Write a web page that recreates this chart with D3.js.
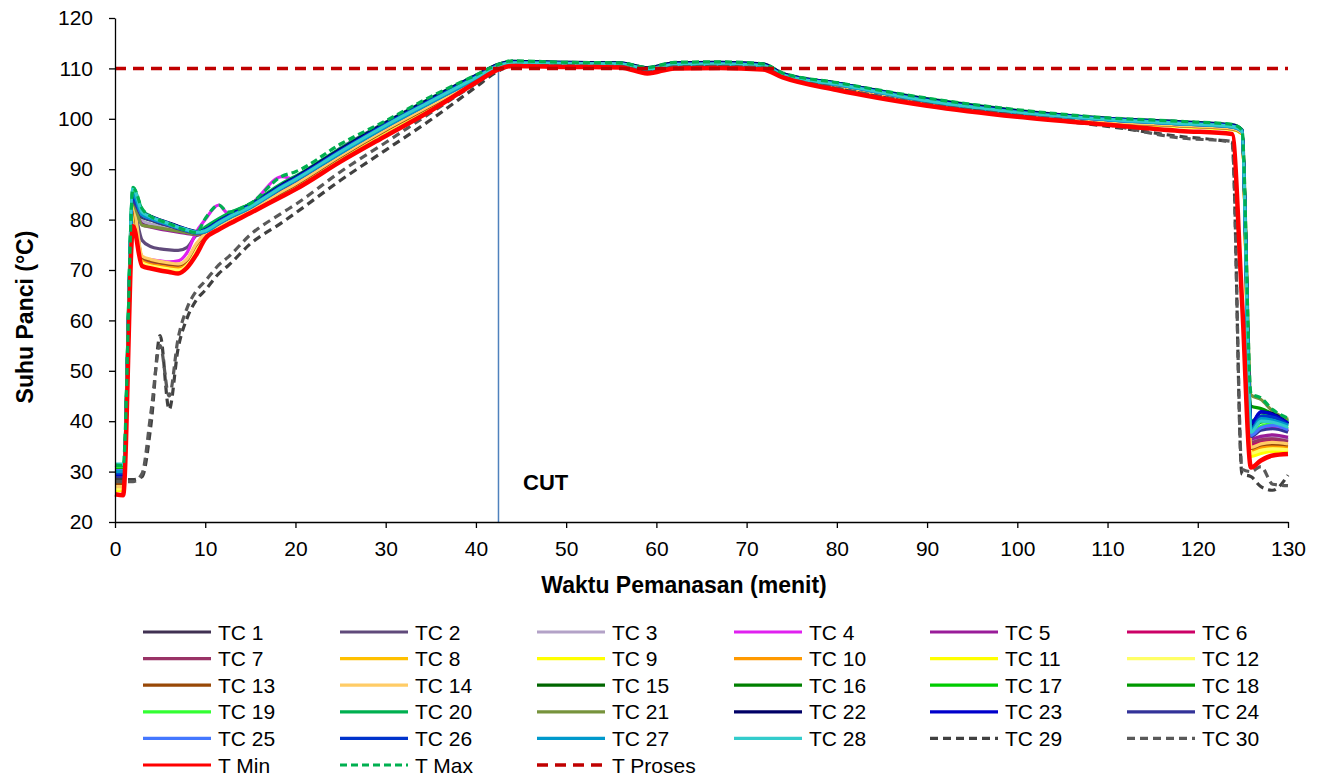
<!DOCTYPE html>
<html><head><meta charset="utf-8">
<script src="https://cdn.jsdelivr.net/npm/d3@7"></script>
<style>body{margin:0;background:#fff} text{font-family:"Liberation Sans",Arial,sans-serif;fill:#000}</style>
</head><body><svg id="c" width="1325" height="778"></svg>
<script>
// ---------- DATA ----------
const time = [0, 0.9, 2, 3, 4, 5, 6, 7, 8, 9, 10, 11.5, 12.5, 15, 18.5, 20, 25, 30, 35, 40, 42.5, 44, 50, 56, 59, 62, 67, 71.8, 74, 80, 90, 100, 110, 118, 123.8, 124.9, 125.9, 127, 128.3, 130];
const xTicks = [0,10,20,30,40,50,60,70,80,90,100,110,120,130];
const yTicks = [20,30,40,50,60,70,80,90,100,110,120];
const cutTime = 42.5;
const prosesTime = [0, 130];
const prosesValues = [110, 110];

const tc1  = [28,28,83,79.5,79,78.6,78.2,77.8,77.4,77.1,77.3,78.8,79.8,82,85.8,87.3,92.8,98,102.8,107.8,110.3,110.9,110.8,110.7,109.7,110.6,110.7,110.4,108.5,106.6,103.4,101.1,99.6,98.8,98.2,97.3,37,38.5,39.5,38];
const tc2  = [28.5,28.5,82,75.9,74.6,74.2,74,73.9,74.5,76.8,77.3,78.7,79.6,81.8,85.6,87,92.6,97.8,102.6,107.6,110.2,110.8,110.7,110.6,109.6,110.5,110.6,110.3,108.4,106.5,103.3,101,99.5,98.7,98.1,97.2,35,36.5,36.8,36.3];
const tc3  = [29,29,83.5,79.8,79.1,78.7,78.3,77.9,77.5,77.2,77.4,79,80,82.2,86,87.5,93,98.2,103,107.9,110.4,110.9,110.8,110.7,109.7,110.6,110.7,110.4,108.5,106.7,103.4,101.1,99.7,98.9,98.3,97.4,36,36.6,37,36.5];
const tc4  = [27,27,81,72.5,72,71.8,71.6,71.8,73.5,77.5,80,82.9,81.3,83,88.5,88,94.2,99.3,104,108.4,110.6,111.2,111,110.9,109.9,111,111.1,110.7,108.8,107,103.8,101.5,100,99.2,98.6,97.6,37,38.5,38.8,38];
const tc5  = [28,28,83,79,78.5,78.1,77.8,77.5,77.2,77,77.5,79.2,80.2,82.4,86.2,87.7,93.3,98.5,103.3,108,110.5,111,110.9,110.8,109.8,110.7,110.8,110.5,108.6,106.8,103.5,101.2,99.8,99,98.4,97.5,36.5,37,37.3,36.8];
const tc6  = [27,27,80.5,72,71.4,71,70.8,70.7,71.5,74.5,77,78.6,79.6,81.8,85.4,86.9,92.5,97.7,102.5,107.5,110.1,110.7,110.6,110.5,109.5,110.4,110.5,110.2,108.4,106.4,103.2,100.9,99.4,98.6,98,97.1,35.5,36,36.2,35.8];
const tc7  = [27.2,27.2,80,72.3,71.6,71.2,71,70.9,71.8,75,77.1,78.7,79.7,81.9,85.5,87,92.6,97.8,102.6,107.6,110.2,110.8,110.7,110.6,109.6,110.5,110.6,110.3,108.4,106.5,103.3,101,99.5,98.7,98.1,97.2,35.8,36.3,36.5,36];
const tc8  = [26.5,26.5,82,71.5,70.9,70.6,70.4,70.2,71.2,74.5,76.8,78.5,79.5,81.7,85.3,86.8,92.4,97.6,102.4,107.4,110,110.7,110.6,110.5,109.5,110.4,110.5,110.2,108.3,106.4,103.2,100.9,99.4,98.6,98,97.1,34,34.8,35,34.8];
const tc9  = [26.2,26.2,80.5,71,70.6,70.3,70,69.8,70.8,74,76.6,78.3,79.3,81.6,85.2,86.7,92.3,97.5,102.3,107.3,110,110.6,110.5,110.4,109.4,110.3,110.4,110.1,108.3,106.3,103.1,100.8,99.3,98.5,97.9,97,33,33.6,34,33.8];
const tc10 = [26.8,26.8,81.5,71.8,71.1,70.8,70.5,70.4,71.3,74.6,76.9,78.6,79.6,81.8,85.4,86.9,92.5,97.7,102.5,107.5,110.1,110.7,110.6,110.5,109.5,110.4,110.5,110.2,108.4,106.4,103.2,100.9,99.4,98.6,98,97.1,34.3,34.9,35.2,35];
const tc11 = [26.4,26.4,80.8,71.2,70.7,70.4,70.1,69.9,70.9,74.2,76.7,78.4,79.4,81.6,85.2,86.7,92.3,97.5,102.3,107.3,110,110.6,110.5,110.4,109.4,110.3,110.4,110.1,108.3,106.3,103.1,100.8,99.3,98.5,97.9,97,33.3,33.9,34.3,34];
const tc12 = [26.6,26.6,81,71.4,70.8,70.5,70.2,70,71,74.3,76.8,78.5,79.5,81.7,85.3,86.8,92.4,97.6,102.4,107.4,110,110.7,110.6,110.5,109.5,110.4,110.5,110.2,108.3,106.4,103.2,100.9,99.4,98.6,98,97.1,33.6,34.2,34.5,34.3];
const tc13 = [27.5,27.5,81.5,72.5,71.9,71.5,71.2,71,72,75,77,78.6,79.6,81.8,85.4,86.9,92.5,97.7,102.5,107.5,110.1,110.7,110.6,110.5,109.5,110.4,110.5,110.2,108.4,106.5,103.2,100.9,99.4,98.6,98,97.1,34.6,35.3,35.5,35.3];
const tc14 = [27,27,82.5,72.8,72.1,71.7,71.4,71.2,72.2,75.2,77.2,78.8,79.8,82,85.6,87.1,92.7,97.9,102.7,107.7,110.2,110.8,110.7,110.6,109.6,110.5,110.6,110.3,108.5,106.5,103.3,101,99.5,98.7,98.1,97.2,34.8,35.5,35.8,35.5];
const tc15 = [29.5,29.5,84,80.5,79.9,79.3,78.8,78.3,77.8,77.4,77.9,79.6,80.6,82.8,86.6,88.1,93.6,98.8,103.6,108.3,110.6,111.1,111,110.9,109.9,110.8,110.9,110.6,108.7,106.9,103.6,101.3,99.9,99.1,98.5,97.6,39,40.3,41,39.8];
const tc16 = [30,30,84.5,80.8,80.1,79.5,79,78.4,77.9,77.5,78.2,79.9,80.9,83,86.9,88.3,93.8,99,103.8,108.4,110.6,111.2,111,110.9,109.9,110.9,111,110.7,108.8,107,103.7,101.4,100,99.2,98.6,97.7,39.5,40.5,40.8,39.5];
const tc17 = [30.5,30.5,85,81,80.3,79.6,79.1,78.5,78,77.5,78,79.7,80.7,82.9,86.8,88.2,93.7,98.9,103.7,108.3,110.6,111.1,111,110.9,109.9,110.8,110.9,110.6,108.7,106.9,103.6,101.3,99.9,99.1,98.5,97.6,38.5,39.8,40,39];
const tc18 = [30.8,30.8,85.5,81.3,80.4,79.7,79.2,78.6,78,77.6,78.3,80,81,83.1,87,88.4,93.9,99.1,103.9,108.5,110.7,111.3,111.1,111,110,111,111.1,110.8,108.9,107.1,103.8,101.5,100.1,99.3,98.7,97.7,43,42.5,41.5,40.2];
const tc19 = [31,31,85.8,81.5,80.5,79.8,79.2,78.5,78,77.5,78,79.7,80.7,82.9,86.8,88.2,93.7,98.9,103.7,108.3,110.6,111.1,111,110.9,109.9,110.8,110.9,110.6,108.7,106.9,103.6,101.3,99.9,99.1,98.5,97.6,37.5,39,39.5,38.5];
const tc20 = [31.2,31.2,86.2,82,80.6,79.8,79.2,78.4,77.8,77.4,78.5,80.2,81.2,83.1,87.2,88.6,94.2,99.3,104.1,108.6,110.8,111.4,111.2,111.1,110.1,111.1,111.2,110.9,109,107.1,104,101.7,100.1,99.4,98.8,97.8,40,41,41.3,40];
const tc21 = [29.8,29.8,83,78.9,78.6,78.3,78,77.7,77.4,77.1,77.6,79.3,80.3,82.5,86.4,87.9,93.4,98.6,103.4,108.1,110.5,111,110.9,110.8,109.8,110.7,110.8,110.5,108.6,106.8,103.5,101.2,99.8,99,98.4,97.7,45.2,44.3,42,40.4];
const tc22 = [29,29,84.5,81.5,80.6,79.9,79.3,78.7,78.1,77.6,78,79.7,80.7,82.9,86.9,88.4,94,99.2,104,108.6,110.8,111.4,111.2,111.1,110.1,111.1,111.2,110.9,109,107.1,103.9,101.6,100.1,99.4,98.8,97.8,39.5,41.8,41.5,39.5];
const tc23 = [29.3,29.3,84,81.2,80.4,79.7,79.1,78.5,78,77.5,77.9,79.6,80.6,82.8,86.7,88.2,93.7,98.9,103.7,108.4,110.6,111.2,111,110.9,109.9,110.9,111,110.7,108.8,107,103.7,101.4,100,99.2,98.6,97.7,39.6,41.9,41.3,39.6];
const tc24 = [28.8,28.8,83.5,80.6,79.9,79.3,78.8,78.2,77.7,77.3,77.6,79.2,80.2,82.4,86.2,87.7,93.2,98.4,103.2,108,110.5,111,110.9,110.8,109.8,110.7,110.8,110.5,108.6,106.8,103.5,101.2,99.8,99,98.4,97.5,37,38.2,38.5,37.8];
const tc25 = [30.2,30.2,84.8,81,80.2,79.6,79,78.4,77.9,77.4,77.7,79.3,80.3,82.5,86.4,87.9,93.4,98.6,103.4,108.1,110.5,111,110.9,110.8,109.8,110.7,110.8,110.5,108.6,106.8,103.5,101.2,99.8,99,98.4,97.5,37.2,38.7,39.2,38.3];
const tc26 = [29.6,29.6,84.3,81.3,80.5,79.8,79.2,78.6,78,77.5,77.9,79.6,80.6,82.8,86.7,88.2,93.7,98.9,103.7,108.4,110.6,111.2,111,110.9,109.9,110.9,111,110.7,108.8,107,103.7,101.4,100,99.2,98.6,97.7,38.5,41,40.8,39.3];
const tc27 = [30,30,85,81,80.2,79.6,79,78.4,77.9,77.4,77.6,79.2,80.2,82.4,86.3,87.8,93.2,98.4,103.2,108,110.5,111,110.9,110.8,109.8,110.7,110.8,110.5,108.6,106.8,103.5,101.2,99.8,99,98.4,97.5,38.2,40.5,40.2,39.2];
const tc28 = [31.5,31.5,86.3,81.5,80.5,79.8,79.2,78.5,78,77.5,77.8,79.4,80.4,82.6,86.5,88,93.5,98.7,103.5,108.2,110.5,111.1,111,110.9,109.9,110.8,110.9,110.6,108.7,106.9,103.6,101.3,99.9,99.1,98.5,97.6,37.8,40,39.8,38.8];
const tc29 = [28.4,28.4,28.4,29,39.5,57,42.3,54.5,60.5,64,66,69.3,70.8,75.2,79.4,81.3,87.8,93.8,99.8,106.3,109.5,110.5,110.4,110.3,109.2,110.2,110.3,110,108.3,106,102.8,100.6,98.5,96.5,95.3,29.5,29,27,26.3,29.3];
const tc30 = [28,28,28,29.6,42,55,45,56.5,62.5,65.8,67.8,71,72.5,77,81.3,83,89.5,95.3,101.2,107,109.8,110.6,110.5,110.4,109.3,110.3,110.4,110.1,108.4,106.1,102.9,100.7,98.8,96.2,95.5,30.5,30,31,27.5,27.2];
const tMin = [25.5,25.3,78.7,70.8,70.3,69.9,69.6,69.3,70.5,73,76.2,78,79,81.3,84.6,86,91.5,96.6,101.6,107.2,109.8,110.5,110.3,110.2,109,110,110.1,109.8,108.2,105.7,102.6,100.4,98.8,97.6,97,64,30.8,32.2,33.2,33.5];
const tMax = [31.3,31.2,86.4,82.2,80.6,79.8,79.2,78.4,77.8,77.4,80.2,82.9,81.5,83.2,88.6,89.5,95,99.6,104.4,108.7,110.8,111.5,111.2,111.1,110.2,111.2,111.3,110.9,109.1,107.2,104.1,101.8,100.2,99.5,98.9,97.8,45.5,44.6,42.3,40.6];

const seriesNames = ["TC 1","TC 2","TC 3","TC 4","TC 5","TC 6","TC 7","TC 8","TC 9","TC 10","TC 11","TC 12","TC 13","TC 14","TC 15","TC 16","TC 17","TC 18","TC 19","TC 20","TC 21","TC 22","TC 23","TC 24","TC 25","TC 26","TC 27","TC 28","TC 29","TC 30","T Min","T Max"];
const seriesValues = [tc1,tc2,tc3,tc4,tc5,tc6,tc7,tc8,tc9,tc10,tc11,tc12,tc13,tc14,tc15,tc16,tc17,tc18,tc19,tc20,tc21,tc22,tc23,tc24,tc25,tc26,tc27,tc28,tc29,tc30,tMin,tMax];

// ---------- STYLES ----------
const colors = ["#403152","#604a7b","#b3a2c7","#e020f0","#991c99","#cc0066","#993366","#ffc000","#ffff00","#ff9900","#ffff00","#ffff66","#984807","#ffcc66","#006600","#008000","#00cc00","#009900","#33ff33","#00b050","#77933c","#000066","#0000cc","#333399","#4477ff","#0033cc","#0099cc","#33cccc","#404040","#595959","#ff0000","#00b050"];
const prosesColor = "#c00000";
const FONT = "'Liberation Sans',Arial,sans-serif";

const svg = d3.select("#c");
const x = d3.scaleLinear().domain([0,130]).range([115,1288]);
const y = d3.scaleLinear().domain([20,120]).range([522,18]);

function styleOf(i){
  const n = seriesNames[i];
  if (n==="TC 29"||n==="TC 30") return {w:3.2, dash:"8,5"};
  if (n==="T Min") return {w:4.5, dash:null};
  if (n==="T Max") return {w:3.2, dash:"7,4"};
  return {w:3.2, dash:null};
}

// CUT line
svg.append("line").attr("x1",x(cutTime)).attr("x2",x(cutTime)).attr("y1",y(110)).attr("y2",y(20))
  .attr("stroke","#4f81bd").attr("stroke-width",1.5);

const line = d3.line().x(d=>x(d[0])).y(d=>y(d[1])).curve(d3.curveMonotoneX);
const g = svg.append("g");
seriesValues.forEach((vals,i)=>{
  const st = styleOf(i);
  g.append("path").datum(time.map((t,k)=>[t,vals[k]]))
    .attr("d",line).attr("fill","none").attr("stroke",colors[i])
    .attr("stroke-width",st.w).attr("stroke-linejoin","round")
    .attr("stroke-dasharray",st.dash);
});
g.append("path").datum(prosesTime.map((t,k)=>[t,prosesValues[k]]))
  .attr("d",d3.line().x(d=>x(d[0])).y(d=>y(d[1]))).attr("fill","none")
  .attr("stroke",prosesColor).attr("stroke-width",3.5).attr("stroke-dasharray","11,7");

// Axes
const xAxis = svg.append("g").attr("transform",`translate(0,${y(20)})`)
  .call(d3.axisBottom(x).tickValues(xTicks).tickSize(6).tickPadding(13).tickSizeOuter(0));
const yAxis = svg.append("g").attr("transform",`translate(${x(0)},0)`)
  .call(d3.axisLeft(y).tickValues(yTicks).tickSize(6).tickPadding(16).tickSizeOuter(0));
[xAxis,yAxis].forEach(a=>{
  a.selectAll("path,line").attr("stroke","#000").attr("stroke-width",1.3);
  a.selectAll("text").attr("font-size",21).attr("font-family",FONT).attr("fill","#000");
});

svg.append("text").attr("x",684).attr("y",593).attr("text-anchor","middle")
  .attr("font-size",23).attr("font-weight","bold").text("Waktu Pemanasan (menit)");
svg.append("text").attr("transform",`translate(33,317) rotate(-90)`).attr("text-anchor","middle")
  .attr("font-size",23).attr("font-weight","bold").text("Suhu Panci (°C)");
svg.append("text").attr("x",523).attr("y",490).attr("font-size",22).attr("font-weight","bold").text("CUT");

// Legend
const legendNames = seriesNames.concat(["T Proses"]);
const legendColors = colors.concat([prosesColor]);
const colX = [143,340,537,734,930,1127];
const lg = svg.append("g");
legendNames.forEach((n,i)=>{
  const c = i%6, r = Math.floor(i/6);
  const lx = colX[c], ly = 632 + r*26.6;
  let dash = null, w = 3.2;
  if (i < seriesNames.length){ dash = styleOf(i).dash; }
  if (n==="T Proses"){ dash = "11,7"; w=3.5; }
  lg.append("line").attr("x1",lx).attr("x2",lx+68).attr("y1",ly).attr("y2",ly)
    .attr("stroke",legendColors[i]).attr("stroke-width",w).attr("stroke-dasharray",dash);
  lg.append("text").attr("x",lx+75).attr("y",ly).attr("dy","0.36em").attr("font-size",21).text(n);
});
</script></body></html>
